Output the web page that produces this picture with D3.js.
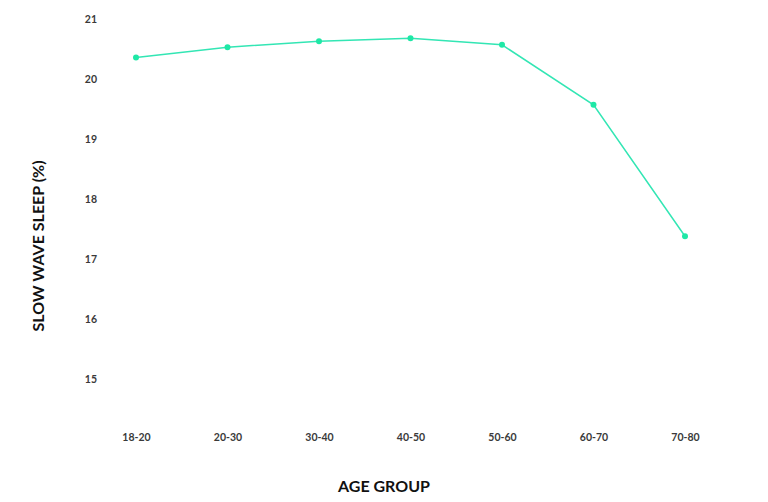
<!DOCTYPE html>
<html><head><meta charset="utf-8">
<script src="https://cdn.jsdelivr.net/npm/d3@7"></script>
<style>body{margin:0;background:#fff;}svg{display:block;}</style>
</head><body>
<svg id="c" width="768" height="502"></svg>
<script>
const categories = ["18-20","20-30","30-40","40-50","50-60","60-70","70-80"];
const values = [20.36, 20.53, 20.63, 20.68, 20.57, 19.57, 17.38];
const yTicks = [15,16,17,18,19,20,21];

const svg = d3.select("#c");
const font = "Lato, 'Open Sans', sans-serif";
const x = d3.scalePoint().domain(categories).range([136, 685]);
const y = d3.scaleLinear().domain([15, 21]).range([379, 19]);

const yAxis = svg.append("g").attr("transform","translate(97,0)")
  .call(d3.axisLeft(y).tickValues(yTicks).tickSize(0).tickPadding(0).tickFormat(d3.format("d")));
yAxis.select(".domain").remove();
yAxis.selectAll("text").attr("font-family", font).attr("font-size", 10.5).attr("font-weight", 700).attr("fill", "#3a3a3a");

const xAxis = svg.append("g").attr("transform","translate(0,434)")
  .call(d3.axisBottom(x).tickSize(0).tickPadding(0));
xAxis.select(".domain").remove();
xAxis.selectAll("text").attr("font-family", font).attr("font-size", 10.5).attr("font-weight", 700).attr("fill", "#3a3a3a");

const line = d3.line().x((d,i)=>x(categories[i])).y(d=>y(d));
svg.append("path").datum(values).attr("d", line)
  .attr("fill","none").attr("stroke","#33e6b4").attr("stroke-width",1.5);
svg.selectAll("circle.pt").data(values).join("circle").attr("class","pt")
  .attr("cx",(d,i)=>x(categories[i])).attr("cy",d=>y(d)).attr("r",3)
  .attr("fill","#1ee8a6");

svg.append("text").attr("x",384).attr("y",492).attr("text-anchor","middle")
  .attr("font-family",font).attr("font-size",16).attr("font-weight",700).attr("fill","#111")
  .text("AGE GROUP");
svg.append("text").attr("transform","translate(44,246) rotate(-90)").attr("text-anchor","middle")
  .attr("font-family",font).attr("font-size",16).attr("font-weight",700).attr("fill","#111")
  .text("SLOW WAVE SLEEP (%)");
</script>
</body></html>
